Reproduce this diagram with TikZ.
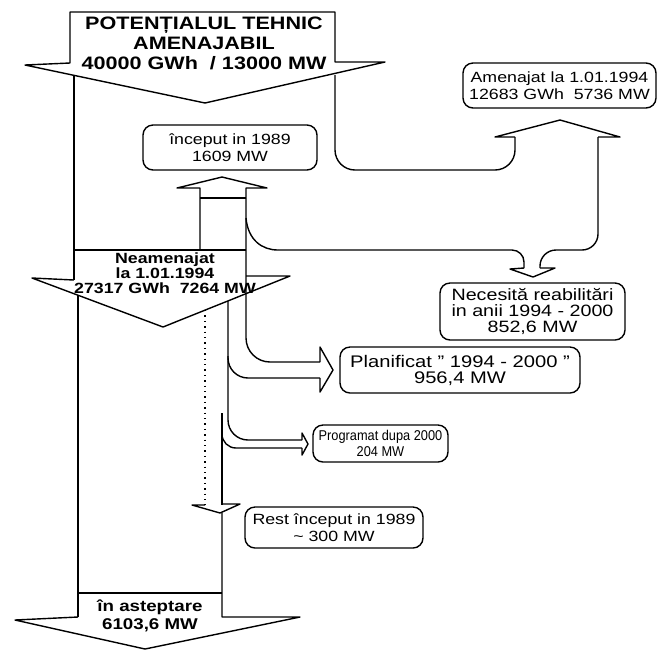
\documentclass[tikz,border=0pt]{standalone}
\usepackage{fontspec}
\setmainfont{Liberation Sans}[FakeStretch=1.2]
\newfontfamily\narrowsans{Liberation Sans}[FakeStretch=0.9]
\usepackage{tikz}

\begin{document}
\begin{tikzpicture}[x=0.5pt,y=-0.5pt]

    \tikzstyle{flow} = [draw, line width=0.7pt, line join=round]
    \tikzstyle{lbox} = [draw, line width=0.7pt, rounded corners=5pt, align=center, inner sep=0pt, font=\fontsize{7.4}{8.5}\selectfont]
    \tikzstyle{flowtext} = [align=center, inner sep=0pt, font=\bfseries\fontsize{7.4}{7.6}\selectfont]

    \useasboundingbox (0,0) rectangle (657,650);

    % Potential arrow
    \draw[flow] (70,63) -- (70,12) -- (335,12) -- (335,62) -- (385,62) -- (205,103) -- (25,65) -- cycle;
    \draw[flow] (74,75) -- (74,280);

    % Amenajat branch (up)
    \draw[flow, rounded corners=10pt] (335,75) -- (335,170) -- (515,170) -- (515,137);
    \draw[flow] (515,137) -- (495,137) -- (560,120) -- (620,137) -- (598,137);
    \draw[flow, rounded corners=8pt] (598,137) -- (598,250) -- (540,250) -- (540,268);

    % Necesita reabilitari (down)
    \draw[flow] (540,268) -- (555,268) -- (533,277) -- (510,269) -- (524,268);
    \draw[flow, rounded corners=6pt] (524,268) -- (524,250) -- (278,250);
    \draw[flow] (246,218) .. controls (248,240) and (262,250) .. (278,250);

    % Inceput in 1989 (up)
    \draw[flow] (200,250) -- (200,188) -- (177,188) -- (222,177) -- (267,188) -- (246,188) -- (246,198);
    \draw[flow] (200,198) -- (246,198);

    % Neamenajat arrow
    \draw[flow] (74,250) -- (246,250);
    \draw[flow] (74,280) -- (32,278) -- (163,327) -- (290,276) -- (246,276);

    % Planificat (right)
    \draw[flow, rounded corners=12pt] (246,198) -- (246,362) -- (320,362);
    \draw[flow] (320,362) -- (320,347) -- (333,370) -- (320,392) -- (320,378);
    \draw[flow, rounded corners=10pt] (320,378) -- (228,378) -- (228,356);

    % Programat (right)
    \draw[flow, rounded corners=10pt] (228,301) -- (228,440) -- (302,440);
    \draw[flow] (302,440) -- (302,433) -- (308,444) -- (302,455) -- (302,448);
    \draw[flow, rounded corners=7pt] (302,448) -- (222,448) -- (222,432);
    \draw[flow] (222,413) -- (222,505);

    % Rest inceput (down)
    \draw[flow, dotted] (205,310) -- (205,505);
    \draw[flow] (205,505) -- (192,505) -- (220,513) -- (240,504) -- (222,504);

    % In asteptare arrow
    \draw[flow] (78,295) -- (78,617);
    \draw[flow] (78,593) -- (222,593);
    \draw[flow] (78,617) -- (15,620) -- (145,649) -- (300,617) -- (222,617) -- (222,513);

    % Labels
    \node[flowtext, font=\bfseries\fontsize{9}{10}\selectfont] (potential) at (204,43.5) {POTENȚIALUL TEHNIC\\AMENAJABIL\\40000 GWh \ / 13000 MW};
    \node[flowtext] (neamen) at (165,273) {Neamenajat\\la 1.01.1994\\27317 GWh \ 7264 MW};
    \node[flowtext, font=\bfseries\fontsize{7.8}{9}\selectfont] (asteptare) at (150,616) {în asteptare\\6103,6 MW};

    % Boxes
    \node[lbox, minimum width=87pt, minimum height=22.5pt] (incep) at (230,147.5) {început in 1989\\1609 MW};
    \node[lbox, minimum width=96.5pt, minimum height=22.5pt] (amen) at (559.5,85.5) {Amenajat la 1.01.1994\\12683 GWh \ 5736 MW};
    \node[lbox, minimum width=92.5pt, minimum height=28.5pt, font=\fontsize{8.2}{8.2}\selectfont] (necesita) at (532.5,311.5) {Necesită reabilitări\\in anii 1994 - 2000\\852,6 MW};
    \node[lbox, minimum width=120pt, minimum height=23pt, font=\fontsize{8.4}{8}\selectfont] (planif) at (460,370) {Planificat " 1994 - 2000 "\\956,4 MW};
    \node[lbox, minimum width=67.5pt, minimum height=18.5pt, font=\narrowsans\fontsize{7.1}{8}\selectfont] (program) at (380.5,443.5) {Programat dupa 2000\\204 MW};
    \node[lbox, minimum width=89pt, minimum height=20.5pt] (rest) at (334,527.5) {Rest început in 1989\\\textasciitilde\ 300 MW};

\end{tikzpicture}
\end{document}
